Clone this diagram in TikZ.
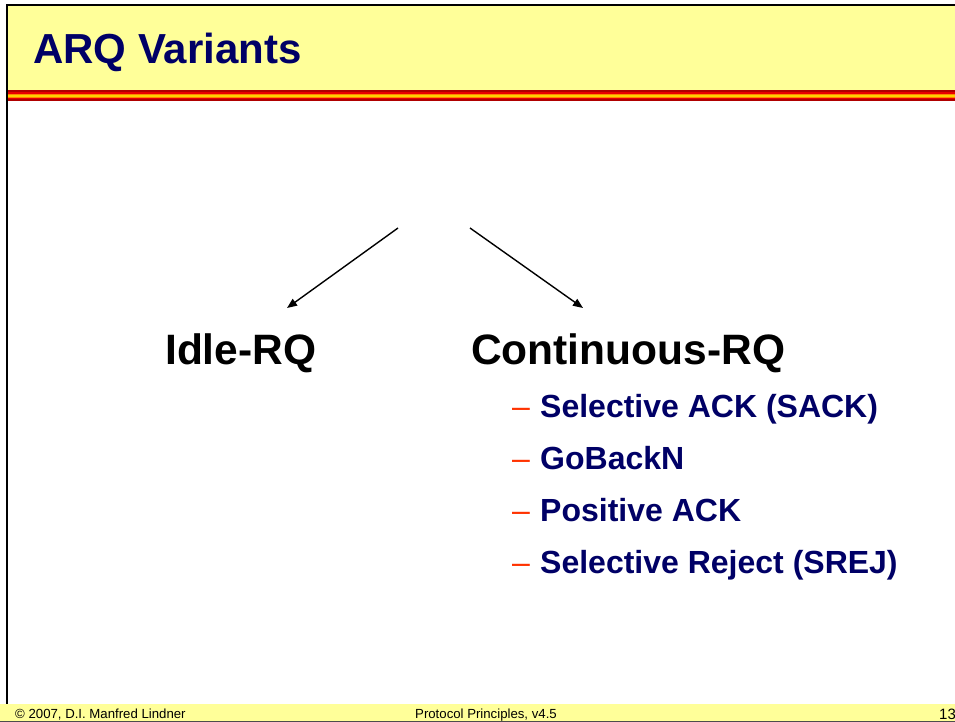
\documentclass[tikz,border=0pt]{standalone}
\usepackage{fontspec}
\setmainfont{Liberation Sans}
\usetikzlibrary{arrows.meta}
\definecolor{hdryellow}{HTML}{FFFF99}
\definecolor{navy}{HTML}{000066}
\definecolor{dashred}{HTML}{FF3300}
\definecolor{dkred}{HTML}{B00000}
\definecolor{mdred}{HTML}{E80000}
\definecolor{orng}{HTML}{FF8800}
\definecolor{gold}{HTML}{FFD000}
\tikzset{
  titletext/.style={anchor=base west, inner sep=0pt, text=navy, font=\fontsize{42}{50}\selectfont\bfseries},
  maintext/.style={anchor=base west, inner sep=0pt, text=black, font=\fontsize{42.5}{50}\selectfont\bfseries},
  subtext/.style={anchor=base west, inner sep=0pt, text=navy, font=\fontsize{32}{38}\selectfont\bfseries},
  dashmark/.style={anchor=base west, inner sep=0pt, text=dashred, font=\fontsize{32}{38}\selectfont},
  foottext/.style={anchor=base west, inner sep=0pt, text=black, font=\fontsize{13.2}{16}\selectfont},
  arrowline/.style={line width=1.4pt, -{Triangle[length=10pt,width=8pt]}},
}
\begin{document}
\begin{tikzpicture}[x=1pt,y=-1pt]
\useasboundingbox (0,0) rectangle (955,722);
\fill[white] (0,0) rectangle (955,722);
% header band
\fill[hdryellow] (8,6) rectangle (955,91);
% stripe
\fill[dkred] (8,90.5) rectangle (955,92);
\fill[mdred] (8,92) rectangle (955,94);
\fill[orng] (8,94) rectangle (955,95.2);
\fill[gold] (8,95.2) rectangle (955,97.2);
\fill[orng] (8,97.2) rectangle (955,98.4);
\fill[mdred] (8,98.4) rectangle (955,99.5);
\fill[dkred] (8,99.5) rectangle (955,100.6);
% frame
\draw[line width=2.4pt] (7,705) -- (7,5) -- (955,5);
% footer band
\fill[hdryellow] (0,704) rectangle (955,722);
\draw[line width=0.8pt, black!70] (0,721.4) -- (955,721.4);

% title
\node[titletext] (title) at (33,64) {ARQ Variants};

% main items
\node[maintext] (idle) at (165,364) {Idle-RQ};
\node[maintext] (cont) at (471,364) {Continuous-RQ};

% arrows
\coordinate (s1) at (398,228);
\coordinate (s2) at (470,228);
\coordinate (t1) at (287,308);
\coordinate (t2) at (583,308);
\draw[arrowline] (s1) -- (t1);
\draw[arrowline] (s2) -- (t2);

% sub bullets
\node[dashmark] (d1) at (512,417) {–};
\node[subtext] (b1) at (540,417) {Selective ACK (SACK)};
\node[dashmark] (d2) at (512,469) {–};
\node[subtext] (b2) at (540,469) {GoBackN};
\node[dashmark] (d3) at (512,521) {–};
\node[subtext] (b3) at (540,521) {Positive ACK};
\node[dashmark] (d4) at (512,573) {–};
\node[subtext] (b4) at (540,573) {Selective Reject (SREJ)};

% footer
\node[foottext] (f1) at (15,718) {© 2007, D.I. Manfred Lindner};
\node[foottext] (f2) at (415,718) {Protocol Principles, v4.5};
\node[foottext, font=\fontsize{15}{18}\selectfont] (f3) at (939,719) {13};
\end{tikzpicture}
\end{document}
